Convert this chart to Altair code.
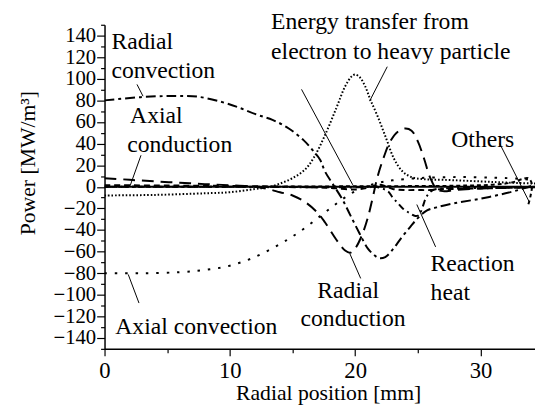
import altair as alt
import pandas as pd

# ---- data ----
series_names = ["Radial convection", "Radial conduction", "Axial conduction",
                "Energy transfer", "Axial convection", "Reaction heat", "Others", "Sum"]

rconv_x = [0, 2.9, 4.8, 6, 7.4, 9.2, 10.8, 12.1, 13.4, 14.7, 15.9, 16.6, 17.2, 17.6, 18.3, 19, 19.6,
           20.3, 21, 21.5, 21.9, 22.4, 23, 23.7, 24.4, 25, 25.7, 26.5, 28, 30, 32, 33, 33.6, 34.35]
rconv_y = [80, 83, 84, 84, 83.5, 79, 73, 67, 62, 54, 43, 34, 25, 14, 1, -12, -26,
           -42, -57, -63, -66, -65, -58, -47, -37, -29, -22, -19, -15, -11, -6, -3, -1, 2]

rcond_x = [0, 2, 4, 6, 8, 10, 12, 13, 14, 15, 16, 17, 17.6, 18.5, 19.2, 19.6, 20, 20.5, 21, 21.4,
           21.8, 22.3, 22.8, 23.4, 24, 24.5, 25, 25.5, 26, 26.5, 27, 28, 30, 32, 34.35]
rcond_y = [8, 6.5, 5, 3.8, 2.5, 1.5, 0, -2, -5, -8, -14, -24, -33, -49, -59, -61, -57, -46, -29, -10,
           10, 28, 42, 51, 54, 52, 42, 26, 8, -2, -4, -3, -1.5, -1, 0]

acond_x = [0, 5, 10, 15, 18, 20, 21, 22, 23, 24, 25, 26, 27, 28, 30, 32, 34.35]
acond_y = [1.5, 1.2, 0.8, 0, -1, -2.5, -1, 2, -2, -3, -3, -3, -2, -2, -1.5, -1, 0]

etr_x = [0, 4, 8, 10, 12, 13, 14, 15, 16, 16.7, 17.6, 18.5, 19.2, 19.7, 20, 20.4, 20.8, 21.2,
         21.8, 22.5, 23.1, 23.8, 24.5, 25.5, 27, 30, 32, 34.35]
etr_y = [-8, -7.5, -6, -5, -2, -0.5, 3, 8, 16, 27, 48, 73, 93, 102, 104, 101, 93, 81,
         65, 44, 26, 14, 9, 7, 6.5, 5, 4, 3]

aconv_x = [0, 3, 6, 8, 10, 12, 14, 15, 16, 17, 17.9, 18.8, 19.7, 20.8, 22, 23, 25, 28, 31, 33, 34.35]
aconv_y = [-80, -80, -79, -77, -73, -65, -53, -46, -38, -29, -21, -13, -6, 0, 4, 6, 8, 9, 8.5, 7.5, 6]

rheat_x = [0, 10, 18, 20, 21.5, 22, 22.6, 23, 23.4, 23.8, 24.3, 24.8, 25.1, 25.4, 25.7, 26.2, 27, 30, 34.35]
rheat_y = [0, 0, -0.5, -0.5, 0, -1, -4, -10, -15, -20, -24, -27, -26, -18, -9, -3, -1.5, -1, -0.5]

oth_x = [0, 10, 20, 28, 31, 32.5, 33.3, 33.8, 34.1, 34.0, 33.8]
oth_y = [0, 0, 0.5, 1, 2, 4, 7, 8, 3, -8, -17]

sum_x = [0, 34.35]
sum_y = [0, 0]

x_major = [0, 10, 20, 30]
x_minor = [5, 15, 25]
y_major = list(range(-140, 141, 20))
y_minor = list(range(-150, 151, 20))

ann_text = ["Radial", "convection", "Axial", "conduction", "Energy transfer from",
            "electron to heavy particle", "Others", "Reaction", "heat",
            "Radial", "conduction", "Axial convection"]
ann_x = [0.55, 0.55, 2.04, 1.81, 13.29, 13.29, 27.67, 26.02, 26.02, 16.98, 15.64, 0.86]
ann_y = [127.6, 100.3, 59.3, 31.9, 145.9, 118.5, 36.5, -77.5, -104.8, -103, -128.5, -135.8]

lead_x = [2.59, 2.91, 22.56, 15.72, 31.53, 26.42, 19.58, 1.89]
lead_y = [94.8, 29.2, 111.2, 90.2, 40.1, -55.6, -62.0, -81.1]
lead_x2 = [3.07, 2.04, 21.15, 19.81, 33.88, 24.92, 20.44, 2.75]
lead_y2 = [83.9, 0.9, 79.3, 1.8, -13.7, -16.4, -84.8, -107.6]

# ---- build tables ----
groups = [(series_names[0], rconv_x, rconv_y), (series_names[1], rcond_x, rcond_y),
          (series_names[2], acond_x, acond_y), (series_names[3], etr_x, etr_y),
          (series_names[4], aconv_x, aconv_y), (series_names[5], rheat_x, rheat_y),
          (series_names[6], oth_x, oth_y), (series_names[7], sum_x, sum_y)]
rows = []
for name, xs, ys in groups:
    for i, (a, b) in enumerate(zip(xs, ys)):
        rows.append({"series": name, "x": a, "y": b, "i": i})
df = pd.DataFrame(rows)
ann = pd.DataFrame({"text": ann_text, "x": ann_x, "y": ann_y})
lead = pd.DataFrame({"x": lead_x, "y": lead_y, "x2": lead_x2, "y2": lead_y2})

FONT = "Liberation Serif"
dash_range = [[10, 4, 3, 4], [12, 7], [6, 4], [1.6, 2], [2.5, 8], [7, 4, 2, 4], [4, 3], [1, 0]]
width_range = [2, 2, 1.8, 2.4, 2.5, 2, 1.8, 2.6]

x_scale = alt.Scale(domain=[0, 34.35], nice=False, zero=False)
y_scale = alt.Scale(domain=[-150, 150], nice=False, zero=False)

common = dict(grid=False, labelFont=FONT, titleFont=FONT, titleFontSize=22,
              titleFontWeight="normal", labelColor="black", titleColor="black",
              domainColor="black", tickColor="black", domainWidth=1.5, tickWidth=1.2,
              labelOverlap=False)

x_axis = alt.Axis(values=x_major, title="Radial position [mm]", orient="bottom", tickSize=7,
                  labelFontSize=23, labelFlush=False, labelPadding=4, format="d",
                  titleX=227, titleY=51, titleBaseline="alphabetic", **common)
y_axis = alt.Axis(values=y_major, title="Power [MW/m³]", orient="left", tickSize=8,
                  labelFontSize=21, labelPadding=1, format="d",
                  titleX=-71, titleY=140, titleBaseline="alphabetic", **common)
x_minor_axis = alt.Axis(values=x_minor, orient="bottom", tickSize=4, labels=False, domain=False,
                        title=None, grid=False, tickColor="black", tickWidth=1.2)
y_minor_axis = alt.Axis(values=y_minor, orient="left", tickSize=4, labels=False, domain=False,
                        title=None, grid=False, tickColor="black", tickWidth=1.2)

lines = alt.Chart(df).mark_line(color="black", interpolate="catmull-rom", clip=True).encode(
    x=alt.X("x:Q", scale=x_scale, axis=x_axis),
    y=alt.Y("y:Q", scale=y_scale, axis=y_axis),
    detail="series:N",
    order="i:Q",
    strokeDash=alt.StrokeDash("series:N", scale=alt.Scale(domain=series_names, range=dash_range), legend=None),
    strokeWidth=alt.StrokeWidth("series:N", scale=alt.Scale(domain=series_names, range=width_range), legend=None),
)

minor = alt.Chart(df).mark_point(opacity=0).encode(
    x=alt.X("x:Q", scale=x_scale, axis=x_minor_axis),
    y=alt.Y("y:Q", scale=y_scale, axis=y_minor_axis),
)

leaders = alt.Chart(lead).mark_rule(color="black", strokeWidth=1).encode(
    x=alt.X("x:Q", axis=None), y=alt.Y("y:Q", axis=None), x2="x2:Q", y2="y2:Q")

texts = alt.Chart(ann).mark_text(align="left", baseline="alphabetic", font=FONT, fontSize=24,
                                 color="black").encode(
    x=alt.X("x:Q", axis=None), y=alt.Y("y:Q", axis=None), text="text:N")

chart = alt.layer(lines, minor, leaders, texts).resolve_axis(
    x="independent", y="independent"
).properties(
    width=437, height=329,
    padding={"left": 98, "top": 14, "right": 0, "bottom": 56},
    autosize=alt.AutoSizeParams(type="none"),
    background="white",
).configure_view(stroke=None)

chart.save("out.html", embed_options={"renderer": "svg", "actions": False})
